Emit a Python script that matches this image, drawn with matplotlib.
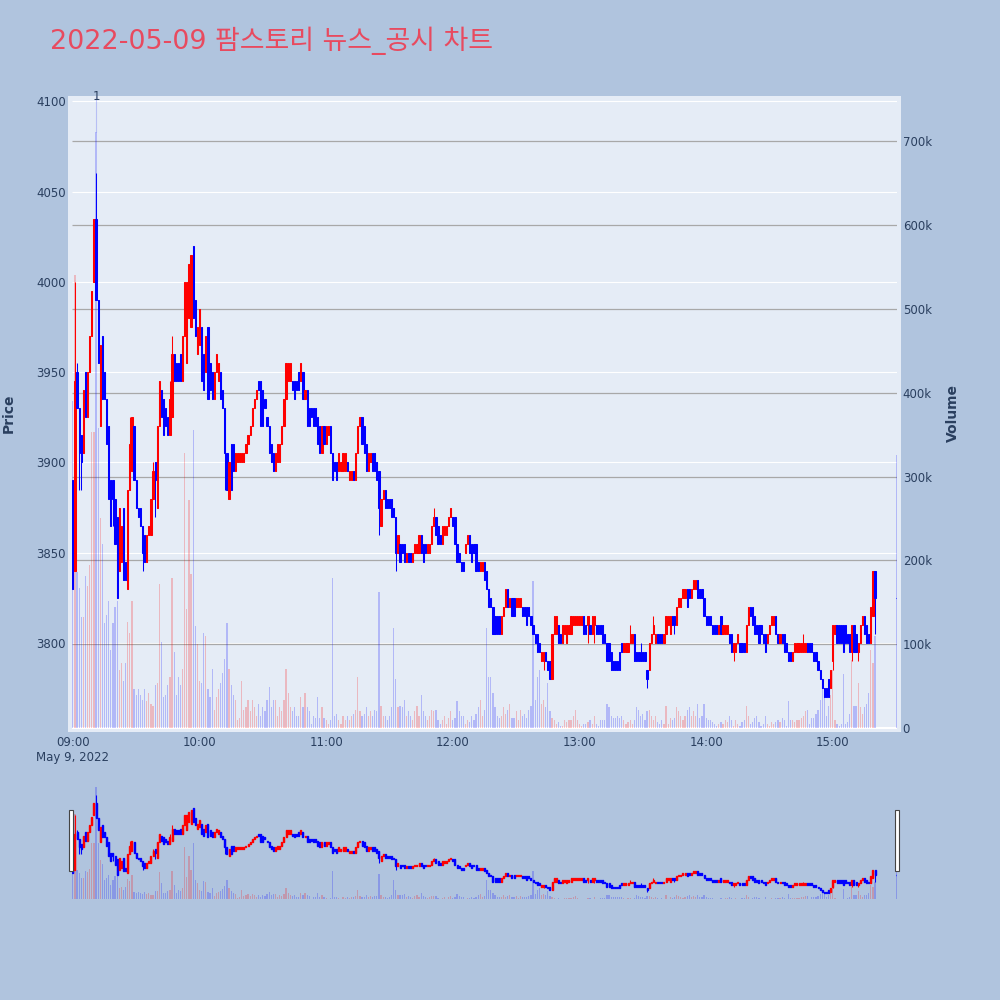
import matplotlib
matplotlib.use("Agg")
import matplotlib.pyplot as plt
from matplotlib.patches import Rectangle
from matplotlib.transforms import blended_transform_factory

# chart texts
title = "2022-05-09 팜스토리 뉴스_공시 차트"
date_label = "May 9, 2022"
hour_labels = ["09:00", "10:00", "11:00", "12:00", "13:00", "14:00", "15:00"]
hour_ticks = [0, 60, 120, 180, 240, 300, 360]
price_ticks = [3800, 3850, 3900, 3950, 4000, 4050, 4100]
volume_ticks = [0, 100, 200, 300, 400, 500, 600, 700]  # thousands
news_minute = 11
news_label = "1"

# minute of the session (09:00 = 0), last one is the 15:30 closing auction
minutes = list(range(381)) + [390]

opens = [
    3890, 3840, 3950, 3930, 3915, 3905, 3950, 3925, 3950, 3970,
    4000, 4035, 3990, 3920, 3970, 3950, 3935, 3920, 3890, 3890,
    3880, 3870, 3840, 3845, 3875, 3845, 3830, 3885, 3895, 3920,
    3890, 3875, 3875, 3865, 3860, 3845, 3860, 3860, 3880, 3900,
    3875, 3920, 3940, 3935, 3930, 3925, 3915, 3925, 3960, 3955,
    3955, 3960, 3945, 3970, 3955, 3980, 3975, 4020, 3990, 3960,
    3965, 3975, 3960, 3950, 3975, 3955, 3950, 3935, 3950, 3945,
    3950, 3940, 3930, 3905, 3880, 3910, 3910, 3895, 3900, 3900,
    3900, 3900, 3905, 3910, 3915, 3920, 3930, 3935, 3945, 3945,
    3940, 3935, 3925, 3920, 3910, 3905, 3895, 3900, 3900, 3910,
    3920, 3935, 3945, 3945, 3945, 3945, 3945, 3950, 3945, 3950,
    3935, 3940, 3930, 3930, 3930, 3930, 3925, 3920, 3905, 3920,
    3910, 3915, 3920, 3905, 3900, 3900, 3895, 3895, 3895, 3895,
    3900, 3890, 3890, 3895, 3890, 3905, 3920, 3925, 3920, 3910,
    3895, 3900, 3905, 3905, 3900, 3895, 3865, 3880, 3885, 3880,
    3880, 3880, 3875, 3870, 3850, 3855, 3855, 3855, 3845, 3850,
    3850, 3845, 3850, 3850, 3850, 3860, 3855, 3855, 3850, 3850,
    3855, 3865, 3870, 3865, 3860, 3855, 3860, 3860, 3865, 3870,
    3870, 3870, 3855, 3850, 3845, 3845, 3850, 3855, 3860, 3855,
    3855, 3855, 3845, 3840, 3840, 3845, 3840, 3830, 3825, 3820,
    3815, 3815, 3815, 3805, 3815, 3820, 3830, 3820, 3825, 3825,
    3820, 3820, 3820, 3820, 3820, 3820, 3820, 3815, 3810, 3805,
    3805, 3800, 3790, 3790, 3795, 3790, 3790, 3780, 3805, 3805,
    3810, 3805, 3800, 3805, 3800, 3805, 3805, 3810, 3810, 3810,
    3810, 3810, 3815, 3810, 3810, 3810, 3805, 3810, 3810, 3810,
    3810, 3810, 3805, 3800, 3800, 3795, 3790, 3790, 3790, 3795,
    3800, 3795, 3795, 3795, 3800, 3800, 3805, 3795, 3795, 3795,
    3795, 3795, 3785, 3785, 3800, 3805, 3800, 3805, 3805, 3805,
    3800, 3805, 3810, 3805, 3815, 3815, 3810, 3820, 3820, 3825,
    3825, 3830, 3830, 3825, 3830, 3830, 3835, 3830, 3830, 3825,
    3815, 3815, 3815, 3810, 3810, 3810, 3805, 3815, 3805, 3805,
    3805, 3805, 3805, 3795, 3795, 3800, 3800, 3800, 3800, 3795,
    3810, 3820, 3820, 3815, 3810, 3810, 3810, 3805, 3805, 3800,
    3805, 3810, 3810, 3815, 3805, 3800, 3805, 3805, 3800, 3795,
    3795, 3790, 3795, 3795, 3795, 3795, 3795, 3795, 3800, 3800,
    3800, 3795, 3795, 3790, 3785, 3780, 3775, 3775, 3780, 3775,
    3790, 3805, 3810, 3810, 3810, 3810, 3810, 3805, 3805, 3795,
    3810, 3805, 3795, 3800, 3810, 3815, 3810, 3805, 3800, 3815, 3840,
    3825,
]

closes = [
    3830, 3945, 3930, 3905, 3900, 3940, 3925, 3950, 3970, 3995,
    4035, 3990, 3955, 3965, 3935, 3935, 3910, 3880, 3865, 3880,
    3855, 3825, 3875, 3865, 3835, 3835, 3885, 3910, 3925, 3890,
    3875, 3870, 3865, 3850, 3845, 3860, 3865, 3880, 3895, 3890,
    3920, 3945, 3925, 3915, 3920, 3915, 3935, 3960, 3945, 3945,
    3945, 3945, 3970, 4000, 4000, 4010, 4015, 3980, 3970, 3975,
    3985, 3945, 3940, 3970, 3935, 3940, 3935, 3950, 3960, 3955,
    3935, 3930, 3905, 3885, 3900, 3885, 3895, 3905, 3905, 3905,
    3905, 3905, 3910, 3915, 3920, 3930, 3935, 3940, 3940, 3920,
    3920, 3930, 3920, 3905, 3900, 3895, 3905, 3910, 3910, 3920,
    3935, 3955, 3955, 3955, 3940, 3935, 3940, 3940, 3955, 3935,
    3940, 3920, 3920, 3925, 3920, 3920, 3910, 3905, 3920, 3910,
    3920, 3920, 3905, 3890, 3895, 3890, 3905, 3900, 3905, 3905,
    3895, 3895, 3895, 3890, 3905, 3920, 3925, 3910, 3905, 3895,
    3905, 3905, 3895, 3895, 3890, 3875, 3880, 3885, 3875, 3875,
    3875, 3870, 3870, 3850, 3860, 3845, 3850, 3845, 3850, 3845,
    3845, 3850, 3855, 3855, 3860, 3850, 3845, 3850, 3855, 3855,
    3865, 3870, 3860, 3855, 3855, 3865, 3865, 3865, 3870, 3875,
    3865, 3855, 3845, 3845, 3840, 3840, 3855, 3860, 3850, 3845,
    3850, 3840, 3840, 3845, 3845, 3835, 3830, 3820, 3820, 3805,
    3805, 3805, 3805, 3815, 3820, 3830, 3820, 3825, 3815, 3815,
    3825, 3825, 3825, 3815, 3815, 3810, 3815, 3810, 3805, 3800,
    3795, 3795, 3795, 3795, 3790, 3785, 3780, 3805, 3815, 3815,
    3800, 3800, 3810, 3810, 3810, 3810, 3815, 3815, 3815, 3815,
    3815, 3815, 3805, 3805, 3815, 3805, 3815, 3815, 3805, 3805,
    3805, 3800, 3800, 3790, 3790, 3785, 3785, 3785, 3785, 3785,
    3795, 3800, 3800, 3800, 3805, 3805, 3790, 3790, 3790, 3790,
    3790, 3790, 3780, 3800, 3805, 3810, 3805, 3800, 3800, 3800,
    3805, 3815, 3815, 3815, 3810, 3810, 3820, 3825, 3825, 3830,
    3830, 3820, 3825, 3830, 3835, 3835, 3825, 3825, 3825, 3815,
    3810, 3810, 3810, 3805, 3805, 3805, 3810, 3805, 3810, 3810,
    3810, 3800, 3795, 3800, 3800, 3805, 3795, 3795, 3795, 3810,
    3820, 3815, 3810, 3805, 3805, 3800, 3805, 3800, 3795, 3805,
    3810, 3815, 3815, 3805, 3800, 3805, 3800, 3795, 3795, 3790,
    3790, 3795, 3800, 3800, 3800, 3800, 3800, 3800, 3795, 3795,
    3795, 3790, 3790, 3785, 3780, 3775, 3770, 3770, 3770, 3785,
    3810, 3810, 3800, 3800, 3800, 3795, 3800, 3800, 3795, 3810,
    3795, 3795, 3800, 3810, 3815, 3805, 3800, 3800, 3820, 3840, 3825,
    3825,
]

# wick ends that reach past the candle body (minute -> price)
wick_high = {1: 4000, 2: 3955, 11: 4060, 27: 3925, 38: 3900, 46: 3945,
             47: 3970, 171: 3875, 264: 3810, 269: 3800, 275: 3815, 346: 3805}
wick_low = {3: 3885, 4: 3885, 19: 3865, 33: 3840, 39: 3870, 72: 3885,
            145: 3860, 153: 3840, 223: 3785, 244: 3800, 247: 3800,
            272: 3775, 285: 3805, 313: 3790, 360: 3785, 369: 3790,
            372: 3790, 380: 3805}

# traded volume per minute, thousands of shares
volume_k = [
    390, 540, 186, 167, 132, 132, 181, 170, 194, 353,
    353, 711, 358, 250, 220, 125, 135, 152, 93, 125,
    145, 152, 69, 78, 56, 78, 127, 113, 152, 47,
    39, 47, 39, 34, 47, 32, 42, 29, 27, 51,
    54, 172, 103, 37, 39, 51, 61, 179, 91, 39,
    61, 51, 71, 328, 142, 272, 184, 355, 122, 100,
    56, 54, 113, 110, 47, 37, 71, 22, 37, 47,
    54, 66, 83, 125, 71, 51, 39, 34, 10, 12,
    56, 22, 25, 34, 20, 34, 25, 15, 29, 15,
    25, 20, 34, 49, 25, 34, 34, 15, 25, 20,
    34, 71, 42, 25, 20, 25, 15, 15, 37, 25,
    42, 25, 20, 5, 15, 12, 37, 12, 25, 12,
    10, 5, 10, 179, 15, 17, 10, 5, 15, 10,
    15, 10, 15, 17, 22, 61, 20, 15, 17, 25,
    15, 20, 15, 22, 20, 162, 27, 15, 15, 10,
    15, 25, 120, 59, 25, 27, 25, 34, 15, 20,
    15, 10, 20, 27, 15, 39, 20, 15, 10, 15,
    22, 20, 22, 10, 5, 10, 15, 5, 12, 20,
    10, 12, 32, 20, 15, 15, 5, 10, 7, 15,
    10, 17, 25, 34, 15, 22, 120, 61, 61, 42,
    25, 15, 12, 15, 25, 17, 22, 29, 12, 12,
    20, 10, 22, 15, 17, 12, 22, 27, 176, 34,
    61, 69, 29, 34, 25, 54, 20, 12, 10, 5,
    7, 2, 2, 10, 7, 10, 10, 15, 22, 10,
    5, 2, 5, 5, 7, 10, 5, 15, 5, 2,
    10, 10, 10, 29, 25, 15, 12, 12, 15, 12,
    15, 10, 5, 7, 10, 5, 10, 25, 22, 15,
    17, 10, 20, 22, 15, 10, 15, 7, 5, 10,
    5, 27, 5, 12, 10, 12, 25, 20, 15, 10,
    15, 22, 25, 15, 20, 15, 29, 12, 15, 29,
    12, 10, 10, 7, 5, 2, 5, 7, 5, 10,
    7, 15, 10, 2, 10, 5, 2, 7, 10, 27,
    15, 5, 7, 12, 15, 7, 2, 5, 15, 5,
    2, 7, 5, 7, 10, 7, 12, 10, 2, 32,
    10, 10, 7, 10, 10, 12, 15, 20, 22, 5,
    12, 12, 17, 22, 34, 54, 47, 15, 27, 39,
    69, 10, 5, 2, 5, 64, 5, 7, 17, 81,
    27, 27, 54, 25, 17, 25, 29, 42, 93, 78, 110,
    326,
]

UP = "#ff0000"
DOWN = "#0000ff"
BG = "#e5ecf6"
PAPER = "#b0c4de"
FONT_C = "#2a3f5f"

XLIM = (-0.4, 390.4)
PRICE_LIM = (3750.9, 4102.9)
VOL_LIM = (-4.2, 753.6)


def draw_candles(axp, axv, body_lw, wick_lw, body_w, vol_w):
    cols, vcols, lows, highs, bottoms, heights = [], [], [], [], [], []
    for m, o, c in zip(minutes, opens, closes):
        up = c > o
        cols.append(UP if up else DOWN)
        vcols.append((1, 0, 0, 0.22) if up else (0, 0, 1, 0.22))
        highs.append(wick_high.get(m, max(o, c)))
        lows.append(wick_low.get(m, min(o, c)))
        bottoms.append(min(o, c))
        heights.append(abs(c - o))
    axv.bar(minutes, volume_k, width=vol_w, color=vcols, linewidth=0, zorder=2)
    axp.vlines(minutes, lows, highs, colors=cols, linewidth=wick_lw, zorder=2)
    axp.bar(minutes, heights, bottom=bottoms, width=body_w, color=cols,
            edgecolor=cols, linewidth=body_lw, zorder=3)
    axp.set_xlim(*XLIM)
    axp.set_ylim(*PRICE_LIM)
    axv.set_ylim(*VOL_LIM)
    for a in (axp, axv):
        for s in a.spines.values():
            s.set_visible(False)


fig = plt.figure(figsize=(10, 10), dpi=100, facecolor=PAPER)

# main plot area background (slightly wider than the grid)
fig.patches.append(Rectangle((0.068, 0.2683), 0.833, 0.6357, transform=fig.transFigure,
                             facecolor=BG, edgecolor="none", zorder=-1))

axp = fig.add_axes([0.072, 0.2683, 0.825, 0.6357])
axv = axp.twinx()
axp.set_zorder(axv.get_zorder() + 1)
axp.patch.set_visible(False)
axv.patch.set_visible(False)

draw_candles(axp, axv, body_lw=0.75, wick_lw=0.75, body_w=0.55, vol_w=0.6)

# grid: white for price, gray for volume, white zero line
price_tr = blended_transform_factory(axv.transAxes, axp.transData)
axv.hlines(price_ticks, 0, 1, transform=price_tr, colors="white", linewidth=0.8, zorder=0.4)
axv.hlines(volume_ticks[1:], XLIM[0], XLIM[1], colors="#a8a8a8", linewidth=0.9, zorder=0.5)
axv.axhline(0, color="white", linewidth=1.5, zorder=0.6)

axp.set_yticks(price_ticks)
axp.set_yticklabels([str(p) for p in price_ticks])
axv.set_yticks(volume_ticks)
axv.set_yticklabels([f"{v}k" if v else "0" for v in volume_ticks])
axp.set_xticks(hour_ticks)
axp.set_xticklabels(hour_labels)
axp.tick_params(axis="y", length=0, pad=4.3, labelsize=8.5, labelcolor=FONT_C)
axv.tick_params(axis="y", length=0, pad=4.1, labelsize=8.5, labelcolor=FONT_C)
axp.tick_params(axis="x", length=0, pad=3, labelsize=8.5, labelcolor=FONT_C)

# news marker
axv.vlines(news_minute, volume_k[news_minute], VOL_LIM[1], colors=[(0.3, 0.35, 0.95, 0.3)],
           linewidth=0.8, zorder=1.9)
axp.text(news_minute, 1.0, news_label, transform=axp.get_xaxis_transform(), ha="center",
         va="center", fontsize=8.5, color=FONT_C, clip_on=False)

fig.text(0.0728, 0.243, date_label, ha="center", va="center", fontsize=8.5, color=FONT_C)
fig.text(0.0083, 0.587, "Price", rotation=90, ha="center", va="center", fontsize=10,
         fontweight="bold", color=FONT_C)
fig.text(0.9527, 0.587, "Volume", rotation=90, ha="center", va="center", fontsize=10,
         fontweight="bold", color=FONT_C)
fig.text(0.05, 0.959, title, ha="left", va="center", fontsize=19.4, color="#e84a5f",
         family=["DejaVu Sans", "Noto Sans CJK KR"])

# range slider
axs = fig.add_axes([0.072, 0.10, 0.825, 0.12])
axsv = axs.twinx()
axs.set_zorder(axsv.get_zorder() + 1)
axs.patch.set_visible(False)
axsv.set_facecolor(BG)
draw_candles(axs, axsv, body_lw=1.0, wick_lw=0.8, body_w=0.5, vol_w=0.6)
axs.set_xticks([])
axs.set_yticks([])
axsv.set_yticks([])

for hx in (0.0693, 0.8953):
    fig.patches.append(Rectangle((hx, 0.1293), 0.004, 0.0607, transform=fig.transFigure,
                                 facecolor="white", edgecolor="#444444", linewidth=0.8,
                                 zorder=5))

fig.savefig("out.png", dpi=100, facecolor=fig.get_facecolor())
